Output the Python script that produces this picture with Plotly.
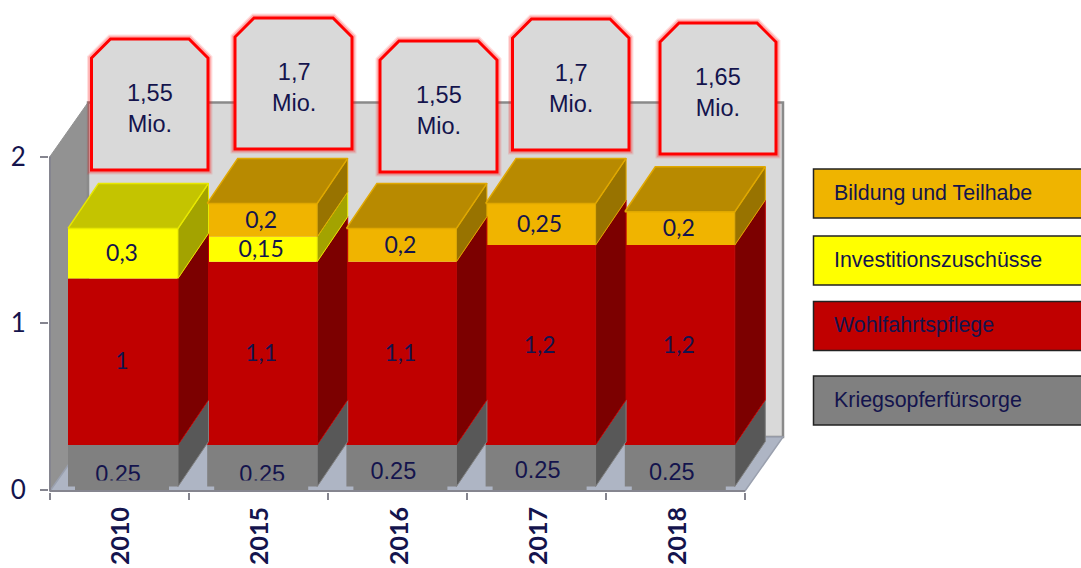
import plotly.graph_objects as go

# Chart data (Mio.)
years = ["2010", "2015", "2016", "2017", "2018"]
kriegsopfer = [0.25, 0.25, 0.25, 0.25, 0.25]
wohlfahrt = [1.0, 1.1, 1.1, 1.2, 1.2]
investition = [0.3, 0.15, 0, 0, 0]
bildung = [0, 0.2, 0.2, 0.25, 0.2]
red_labels = ["1", "1,1", "1,1", "1,2", "1,2"]
yellow_labels = ["0,3", "0,15", "", "", ""]
orange_labels = ["", "0,2", "0,2", "0,25", "0,2"]
gray_labels = ["0.25", "0.25", "0.25", "0.25", "0.25"]
totals = ["1,55", "1,7", "1,55", "1,7", "1,65"]
legend_names = ["Bildung und Teilhabe", "Investitionszuschüsse", "Wohlfahrtspflege", "Kriegsopferfürsorge"]

# Axis scale in pixels per unit and pixel position of the origin
W, H = 1081, 568
PX_X, PX_Y = 139.2, 166.5
X0_PX, Y0_PX = 123, 489.5
PLOT_L, PLOT_B = 49, 492


def xv(px):
    return (px - X0_PX) / PX_X


def yv(py):
    return (Y0_PX - py) / PX_Y


# Pseudo-3D geometry
BAR_W = 110 / PX_X
DEPTH_X = 30.5 / PX_X
DEPTH_Y = 45 / PX_Y
LIFT = 0.018
WALL_DX = 38 / PX_X
WALL_DY = 54 / PX_Y
AX_L = xv(50)
AX_R = xv(745)
AX_Y = yv(491)
WALL_TOP = 2.0

NAVY = "#14144d"
series = [
    ("gray", kriegsopfer, "#808080", "#585858", "#6e6e6e", "#808080"),
    ("red", wohlfahrt, "#c00000", "#7c0000", "#960000", "#c00000"),
    ("yellow", investition, "#ffff00", "#a3a300", "#c4c400", "#e8e800"),
    ("orange", bildung, "#f0b400", "#987300", "#b88a00", "#e0a800"),
]


def path(points):
    return "M" + " L".join(f"{x:.4f},{y:.4f}" for x, y in points) + " Z"


shapes = [
    # left wall, back wall, floor
    dict(type="path", layer="below", xref="x", yref="y", fillcolor="#929292", line=dict(color="#929292", width=1),
         path=path([(AX_L, AX_Y), (AX_L + WALL_DX, AX_Y + WALL_DY), (AX_L + WALL_DX, WALL_TOP + WALL_DY), (AX_L, WALL_TOP)])),
    dict(type="path", layer="below", xref="x", yref="y", fillcolor="#d9d9d9", line=dict(color="#8a8a8a", width=2.5),
         path=path([(AX_L + WALL_DX, AX_Y + WALL_DY), (AX_R + WALL_DX, AX_Y + WALL_DY), (AX_R + WALL_DX, WALL_TOP + WALL_DY), (AX_L + WALL_DX, WALL_TOP + WALL_DY)])),
    dict(type="path", layer="below", xref="x", yref="y", fillcolor="#aeb5c4", line=dict(color="#9aa0ae", width=1.5),
         path=path([(AX_L, AX_Y), (AX_L + WALL_DX, AX_Y + WALL_DY), (AX_R + WALL_DX, AX_Y + WALL_DY), (AX_R, AX_Y)])),
]

fig = go.Figure()

# Front faces
base = [LIFT] * len(years)
segments = []
for name, values, front, side, top, edge in series:
    fig.add_trace(go.Bar(x=list(range(len(years))), y=values, base=list(base), width=BAR_W,
                         marker=dict(color=front, line=dict(width=0)), showlegend=False, hoverinfo="skip"))
    segments.append((list(base), values))
    base = [b + v for b, v in zip(base, values)]

# Side and top faces, derived from the stacked values
for i in range(len(years)):
    r = i + BAR_W / 2
    l = i - BAR_W / 2
    stack_top = max(b[i] + v[i] for b, v in segments if v[i] > 0)
    for (b, v), (name, values, front, side, top, edge) in zip(segments, series):
        if v[i] <= 0:
            continue
        y0, y1 = b[i], b[i] + v[i]
        fig.add_trace(go.Scatter(
            x=[r, r + DEPTH_X, r + DEPTH_X, r, r], y=[y0, y0 + DEPTH_Y, y1 + DEPTH_Y, y1, y0],
            mode="lines", fill="toself", fillcolor=side, line=dict(color=edge, width=1),
            showlegend=False, hoverinfo="skip"))
        if abs(y1 - stack_top) < 1e-9:
            fig.add_trace(go.Scatter(
                x=[l, l + DEPTH_X, r + DEPTH_X, r, l], y=[y1, y1 + DEPTH_Y, y1 + DEPTH_Y, y1, y1],
                mode="lines", fill="toself", fillcolor=top, line=dict(color=edge, width=1.5),
                showlegend=False, hoverinfo="skip"))

# Value labels centred on each segment
label_sets = [gray_labels, red_labels, yellow_labels, orange_labels]
gray_dx = [-5, 0, -8, -3, -8]
gray_dy = [10, 10, 7, 6, 8]
for idx, ((b, v), labels) in enumerate(zip(segments, label_sets)):
    xs, ys, ts = [], [], []
    for i, t in enumerate(labels):
        if not t:
            continue
        mid = b[i] + v[i] / 2
        if idx == 0:
            xs.append(i + gray_dx[i] / PX_X)
            ys.append(mid - gray_dy[i] / PX_Y)
        else:
            xs.append(i - 1 / PX_X)
            ys.append(mid - 2 / PX_Y)
        ts.append(t)
    fam = "Liberation Sans" if idx == 0 else "Lato"
    size = 23.5 if idx == 0 else 23
    fig.add_trace(go.Scatter(x=xs, y=ys, text=ts, mode="text", textposition="middle center",
                             textfont=dict(family=fam, size=size, color=NAVY),
                             showlegend=False, hoverinfo="skip"))

# Floor lip in front of the bar corners; the middle of each gray bar reaches the axis.
# The two leftmost gray bars also hide the bottom of their labels.
for i in range(len(years)):
    y_top = yv(480.5) if i < 2 else LIFT + 0.005
    shapes.append(dict(type="rect", layer="above", xref="x", yref="y", line=dict(width=0), fillcolor="#808080",
                       x0=i - BAR_W / 2 + 7 / PX_X, x1=i + BAR_W / 2 - 9 / PX_X, y0=AX_Y, y1=y_top))

# Value callouts above the bars: left, right and top edge in pixels
callout_left = [91.5, 235, 380, 512.5, 660]
callout_right = [208, 352, 497, 629, 776]
callout_top = [39, 18, 41, 19, 23]
CALLOUT_H = 131
CHAMFER_X, CHAMFER_Y = 19, 19
annotations = []
for l, r, t, label in zip(callout_left, callout_right, callout_top, totals):
    pts = [(l, t + CALLOUT_H), (l, t + CHAMFER_Y), (l + CHAMFER_X, t), (r - CHAMFER_X, t), (r, t + CHAMFER_Y), (r, t + CALLOUT_H)]
    p = path([(xv(px), yv(py)) for px, py in pts])
    for width, alpha in ((9, 0.12), (6.5, 0.22)):
        shapes.append(dict(type="path", layer="above", xref="x", yref="y", path=p,
                           line=dict(color=f"rgba(255,0,0,{alpha})", width=width), fillcolor="rgba(0,0,0,0)"))
    shapes.append(dict(type="path", layer="above", xref="x", yref="y", path=p,
                       line=dict(color="#ff0000", width=3), fillcolor="#d9d9d9"))
    annotations.append(dict(x=xv((l + r) / 2), y=yv(t + 69), xref="x", yref="y", showarrow=False,
                            text=f"{label}<br>Mio.", align="center",
                            font=dict(family="Liberation Sans", size=23.5, color=NAVY)))

# Legend boxes on the right
legend_colors = ["#efb400", "#ffff00", "#c00000", "#808080"]
legend_top = [169, 236, 301.5, 376]
LEGEND_H = 49
for name, color, t in zip(legend_names, legend_colors, legend_top):
    shapes.append(dict(type="rect", layer="above", xref="x", yref="y", x0=xv(813.5), x1=xv(1090),
                       y0=yv(t + LEGEND_H), y1=yv(t), fillcolor=color, line=dict(color="#222222", width=1.5)))
    annotations.append(dict(x=xv(831.5), y=yv(t + 23.5), xref="x", yref="y", xanchor="left", showarrow=False,
                            text=name, font=dict(family="Liberation Sans", size=21.4, color=NAVY)))

# Axis lines end at the chart box, so they are not the full-width plot axes
AXIS_COLOR = "#85858f"
shapes.append(dict(type="line", layer="above", xref="x", yref="y", x0=AX_L, x1=AX_R, y0=AX_Y, y1=AX_Y,
                   line=dict(color=AXIS_COLOR, width=2)))
shapes.append(dict(type="line", layer="above", xref="x", yref="y", x0=AX_L, x1=AX_L, y0=AX_Y, y1=WALL_TOP,
                   line=dict(color=AXIS_COLOR, width=2)))

edges = [AX_L + k * (AX_R - AX_L) / len(years) for k in range(len(years) + 1)]

fig.update_layout(
    width=W, height=H, barmode="overlay", showlegend=False,
    paper_bgcolor="white", plot_bgcolor="white",
    margin=dict(l=PLOT_L, r=0, t=0, b=H - PLOT_B, pad=0, autoexpand=False),
    shapes=shapes, annotations=annotations,
    xaxis=dict(range=[xv(PLOT_L), xv(W)], showgrid=False, zeroline=False, showline=False,
               tickmode="array", tickvals=[i - 2 / PX_X for i in range(len(years))], ticktext=years,
               ticks="", tickangle=-90, ticklabelstandoff=9,
               tickfont=dict(family="Lato", size=25, color=NAVY, weight="bold"),
               minor=dict(tickmode="array", tickvals=edges, ticks="outside", ticklen=7, tickwidth=2,
                          tickcolor=AXIS_COLOR, showgrid=False)),
    yaxis=dict(range=[yv(PLOT_B), yv(0)], showgrid=False, zeroline=False, showline=False,
               tickmode="array", tickvals=[0, 1, 2], ticktext=["0", "1", "2"], ticks="outside",
               ticklen=8, tickwidth=2, tickcolor=AXIS_COLOR, ticklabelstandoff=9,
               tickfont=dict(family="Lato", size=26, color=NAVY)),
)

fig.write_html("out.html", config=dict(displayModeBar=False))
